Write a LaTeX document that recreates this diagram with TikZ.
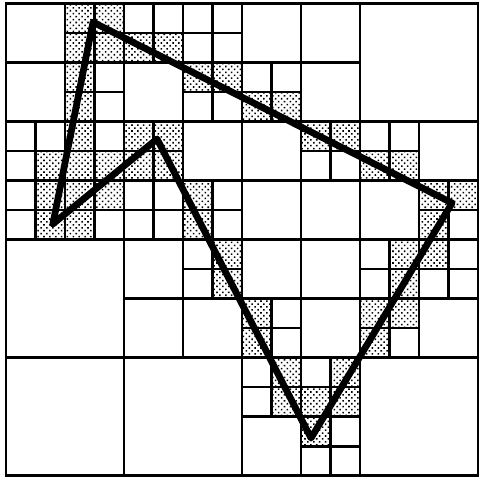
\documentclass[tikz,border=0pt]{standalone}
\usetikzlibrary{patterns.meta}
\tikzset{
  cell/.style={draw=black,line width=2.2pt},
  shaded/.style={pattern={Dots[radius=0.85pt,distance=3.2pt,angle=45]},pattern color=black},
  outline/.style={draw=black,line width=5.2pt,line join=round}
}
\begin{document}
\begin{tikzpicture}[x=0.8cm,y=-0.8cm]
  \useasboundingbox (-0.203,-0.12) rectangle (16.034,16.15);
  % Cases pointillees
  \foreach \i/\j in {2/0,3/0,2/1,3/1,4/1,5/1,2/2,6/2,7/2,2/3,8/3,9/3,2/4,4/4,5/4,10/4,11/4,
    1/5,2/5,3/5,4/5,5/5,12/5,13/5,1/6,2/6,3/6,6/6,14/6,15/6,1/7,2/7,6/7,14/7,
    7/8,13/8,14/8,7/9,13/9,8/10,12/10,13/10,8/11,12/11,9/12,11/12,9/13,10/13,11/13,10/14}
    \path[shaded] (\i,\j) rectangle ++(1,1);
  % Grandes cases
  \foreach \i/\j in {0/8,0/12,4/12,12/0,12/12}
    \draw[cell] (\i,\j) rectangle ++(4,4);
  % Cases moyennes
  \foreach \i/\j in {0/0,0/2,4/2,6/4,8/0,10/0,10/2,8/4,14/4,8/6,10/6,12/6,4/8,4/10,6/10,8/8,10/8,10/10,14/10,8/14}
    \draw[cell] (\i,\j) rectangle ++(2,2);
  % Petites cases
  \foreach \i/\j in {2/0,3/0,2/1,3/1,4/1,5/1,2/2,6/2,7/2,2/3,8/3,9/3,2/4,4/4,5/4,10/4,11/4,
    1/5,2/5,3/5,4/5,5/5,12/5,13/5,1/6,2/6,3/6,6/6,14/6,15/6,1/7,2/7,6/7,14/7,
    7/8,13/8,14/8,7/9,13/9,8/10,12/10,13/10,8/11,12/11,9/12,11/12,9/13,10/13,11/13,10/14,
    4/0,5/0,6/0,7/0,6/1,7/1,3/2,3/3,6/3,7/3,8/2,9/2,0/4,1/4,3/4,0/5,0/6,4/6,5/6,7/6,0/7,3/7,4/7,5/7,7/7,
    10/5,11/5,12/4,13/4,15/7,6/8,6/9,12/8,15/8,12/9,14/9,15/9,9/10,9/11,13/11,8/12,10/12,8/13,11/14,10/15,11/15}
    \draw[cell] (\i,\j) rectangle ++(1,1);
  % Polygone
  \coordinate (top) at (2.95,0.63);
  \coordinate (right) at (15.12,6.76);
  \coordinate (bottom) at (10.34,14.73);
  \coordinate (notch) at (5.12,4.59);
  \coordinate (left) at (1.59,7.47);
  \draw[outline] (top) -- (right) -- (bottom) -- (notch) -- (left) -- cycle;
\end{tikzpicture}
\end{document}
